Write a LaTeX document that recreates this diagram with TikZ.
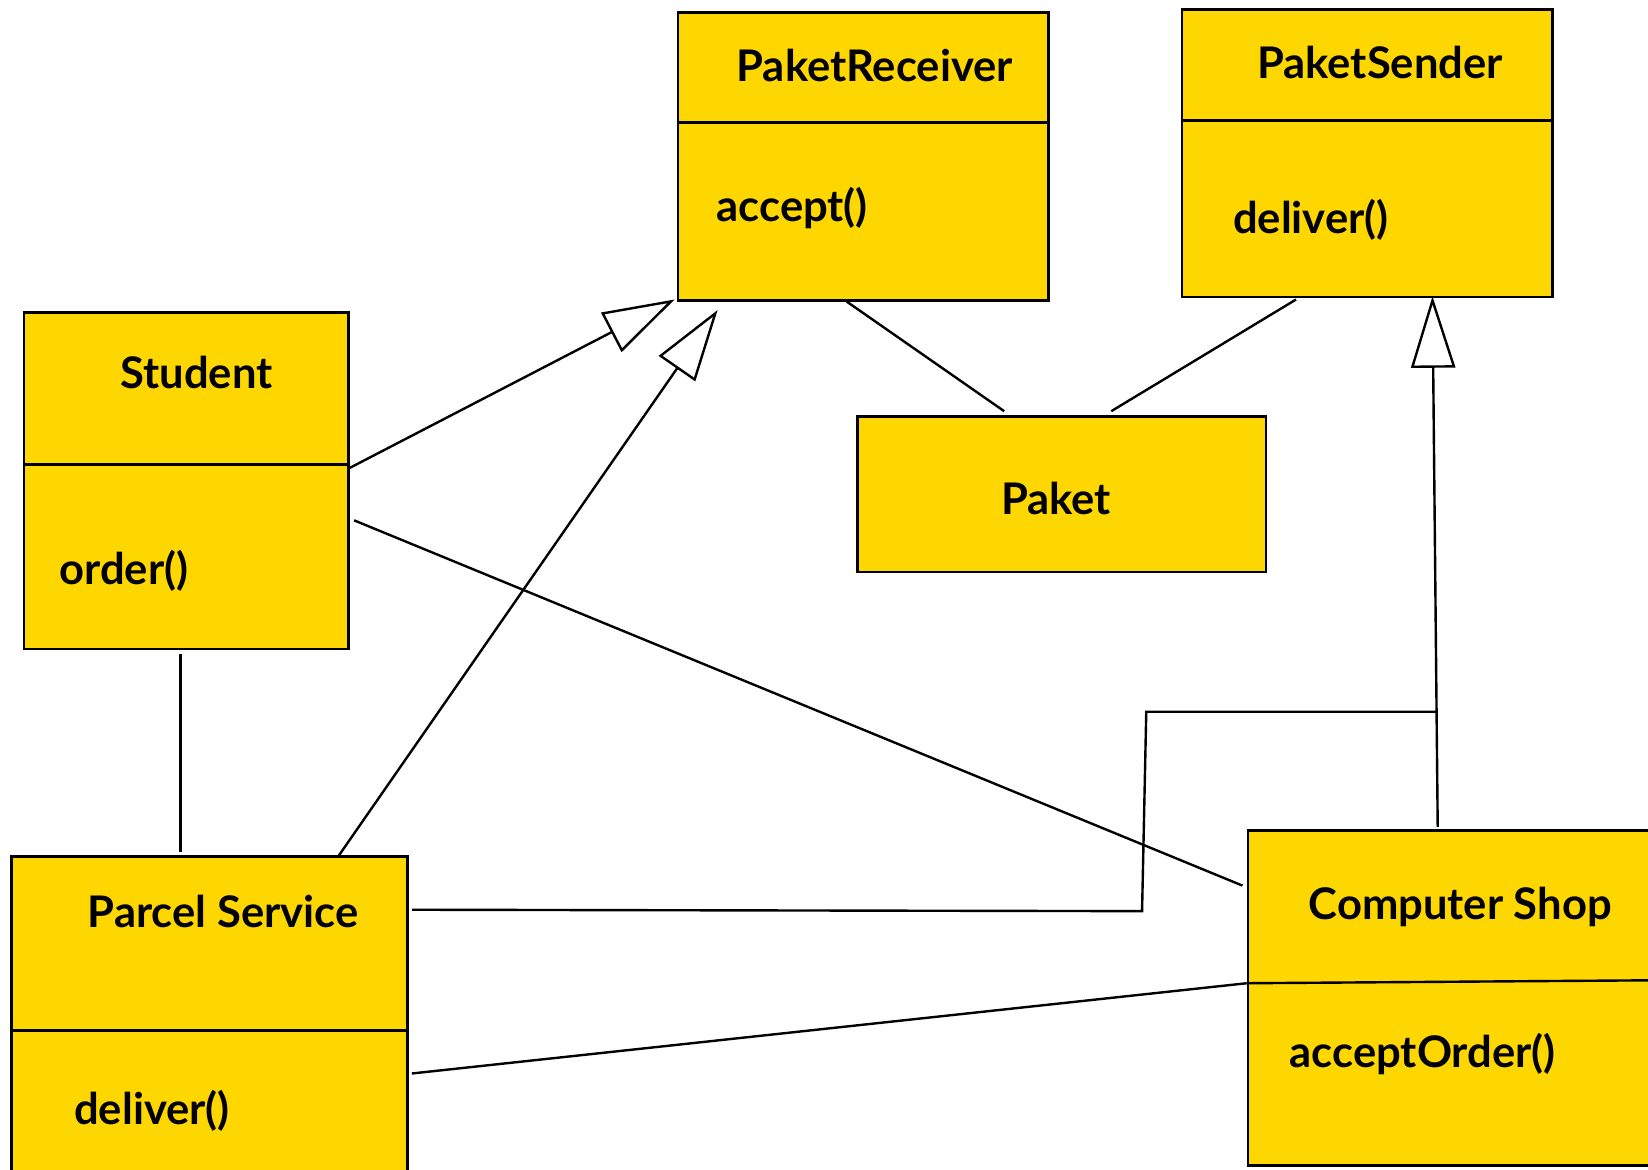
\documentclass[tikz,border=0pt]{standalone}
\usepackage{fontspec}
\setmainfont{Lato}
\usetikzlibrary{arrows.meta,calc}
\definecolor{boxgold}{RGB}{255,215,0}

\begin{document}
\begin{tikzpicture}[x=0.01cm, y=-0.01cm,
        umlbox/.style={draw, fill=boxgold, line width=0.7pt, inner sep=0pt},
        label/.style={anchor=base west, inner sep=0pt, font=\fontsize{11.8}{13}\selectfont\bfseries},
        link/.style={line width=0.65pt},
        inherit/.style={line width=0.65pt, -{Triangle[open, length=0.68cm, width=0.42cm]}}]
        \useasboundingbox (0, 0) rectangle (1570, 1114);

        \node[umlbox, minimum width=3.53cm, minimum height=2.74cm] (recv) at (822.5, 149) {};
        \node[umlbox, minimum width=3.53cm, minimum height=2.74cm] (send) at (1302.5, 146) {};
        \node[umlbox, minimum width=3.09cm, minimum height=3.20cm] (stud) at (177.5, 458) {};
        \node[umlbox, minimum width=3.89cm, minimum height=1.48cm] (paket) at (1011.5, 471) {};
        \node[umlbox, minimum width=3.77cm, minimum height=3.64cm] (parcel) at (199.5, 998) {};
        \node[umlbox, minimum width=4.11cm, minimum height=3.19cm] (shop) at (1394.5, 950.5) {};

        \draw[link] ($(recv.north west)+(0, 106)$) -- ($(recv.north east)+(0, 106)$);
        \draw[link] ($(send.north west)+(0, 107)$) -- ($(send.north east)+(0, 107)$);
        \draw[link] ($(stud.north west)+(0, 146)$) -- ($(stud.north east)+(0, 146)$);
        \draw[link] ($(parcel.north west)+(0, 167)$) -- ($(parcel.north east)+(-2, 167)$);
        \draw[link] ($(shop.north west)+(0, 147)$) -- ($(shop.north east)+(0, 144)$);

        \node[label] (recvname) at (701, 78) {PaketReceiver};
        \node[label] (recvop) at (682, 211) {accept()};
        \node[label] (sendname) at (1197, 74.5) {PaketSender};
        \node[label] (sendop) at (1174, 222) {deliver()};
        \node[label] (studname) at (114, 370) {Student};
        \node[label] (studop) at (56, 557) {order()};
        \node[label] (paketname) at (953, 490) {Paket};
        \node[label] (parcelname) at (83, 884) {Parcel Service};
        \node[label] (parcelop) at (70, 1071) {deliver()};
        \node[label] (shopname) at (1246, 876) {Computer Shop};
        \node[label] (shopop) at (1228, 1017) {acceptOrder()};

        \draw[inherit] ($(stud.north east)+(0, 149)$) -- ($(recv.south west)+(-2, -2)$);
        \draw[inherit] ($(parcel.north west)+(312, 2)$) -- ($(recv.south west)+(39, 8)$);
        \draw[inherit] ($(shop.north west)+(182, -2)$) -- ($(send.south west)+(240, -2)$);
        \coordinate (join) at (1368, 678);

        \draw[link] ($(recv.south west)+(162, 0)$) -- ($(paket.north west)+(141, -4)$);
        \draw[link] ($(send.south west)+(110, 1)$) -- ($(paket.north west)+(243, -4)$);
        \draw[link] ($(parcel.north east)+(3, 52)$) -- (1088, 868) -- (1092, 678) -- (join);
        \draw[link] ($(stud.north east)+(4, 199)$) -- ($(shop.north west)+(-4, 54)$);
        \draw[link] ($(stud.south)+(-5.5, 4)$) -- ($(parcel.north)+(-27.5, -3)$);
        \draw[link] ($(parcel.north east)+(3, 208)$) -- ($(shop.north west)+(0, 147)$);
    \end{tikzpicture}
\end{document}
